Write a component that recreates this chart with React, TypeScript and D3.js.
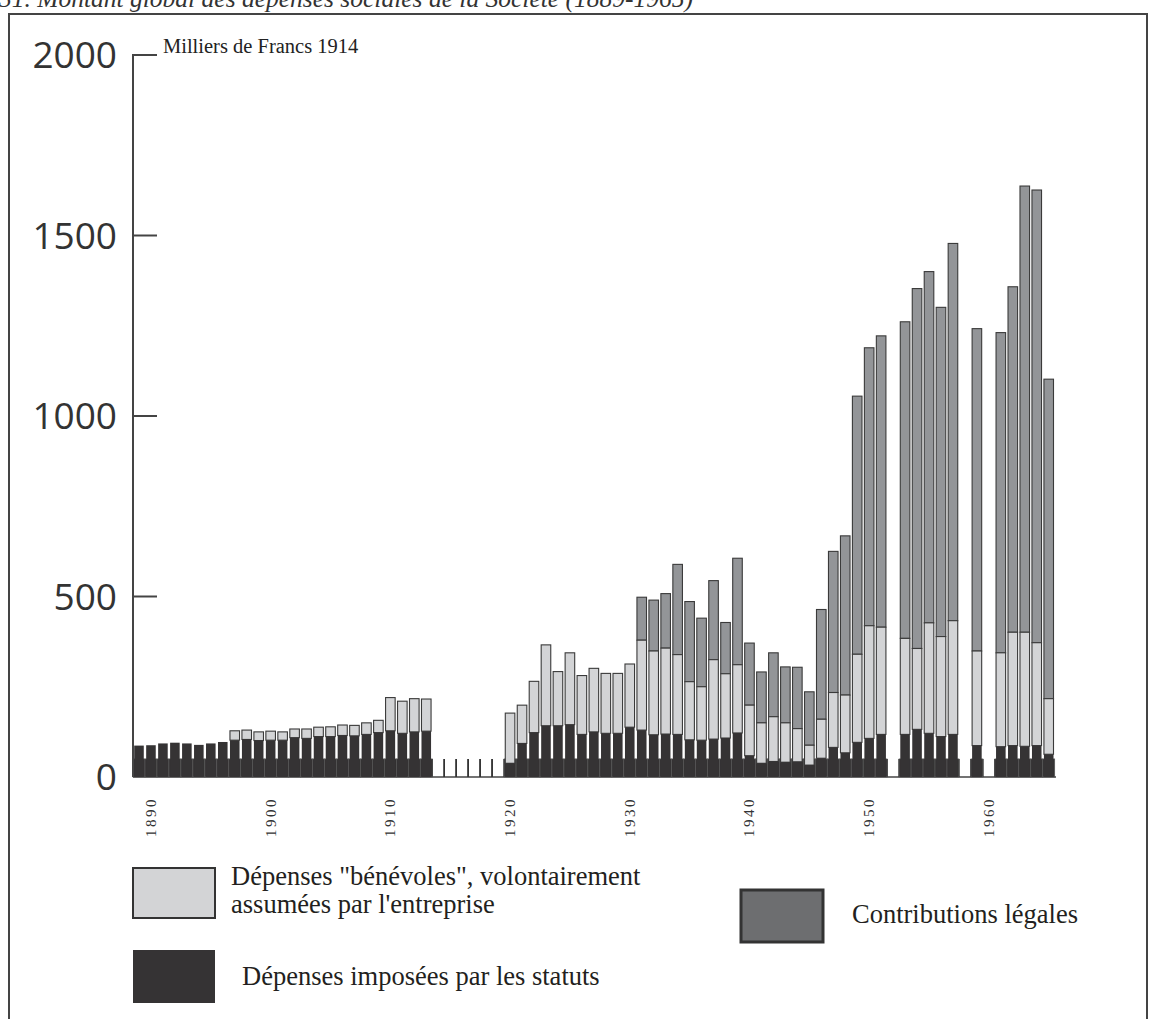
import React from "react";
import * as d3 from "d3";

const years: number[] = d3.range(1889, 1966);

// Dépenses imposées par les statuts (milliers de francs 1914)
const statuts: (number | null)[] = [
  87, 88, 93, 95, 93, 89, 93, 97, 102, 104, 101, 102, 102, 109, 107, 112, 112, 115, 114, 118, 123, 128, 121, 125, 127,
  null, null, null, null, null, null,
  38, 93, 123, 142, 142, 145, 118, 125, 121, 121, 138, 130, 117, 119, 118, 103, 102, 105, 108, 122,
  59, 38, 43, 41, 42, 33, 52, 82, 67, 96, 107, 118, null, 118, 132, 121, 112, 118, null, 87, null, 84, 87, 85, 87, 63,
];

// Dépenses "bénévoles"
const benevoles: (number | null)[] = [
  0, 0, 0, 0, 0, 0, 0, 0, 26, 26, 24, 25, 23, 24, 26, 26, 27, 29, 29, 32, 34, 92, 89, 92, 89,
  null, null, null, null, null, null,
  139, 106, 142, 224, 150, 199, 163, 176, 166, 166, 175, 249, 232, 238, 221, 161, 148, 220, 178, 189,
  140, 112, 124, 109, 92, 55, 108, 152, 160, 244, 312, 297, null, 266, 224, 306, 277, 315, null, 262, null, 260, 314, 316, 285, 154,
];

// Contributions légales
const legales: (number | null)[] = [
  0, 0, 0, 0, 0, 0, 0, 0, 0, 0, 0, 0, 0, 0, 0, 0, 0, 0, 0, 0, 0, 0, 0, 0, 0,
  null, null, null, null, null, null,
  0, 0, 0, 0, 0, 0, 0, 0, 0, 0, 0, 119, 141, 151, 250, 222, 190, 219, 142, 295,
  172, 141, 177, 155, 170, 148, 304, 391, 441, 715, 770, 807, null, 877, 997, 973, 912, 1045, null, 893, null, 887, 957, 1236, 1254, 885,
];

const yTicks = [0, 500, 1000, 1500, 2000];
const xLabels = [1890, 1900, 1910, 1920, 1930, 1940, 1950, 1960];
const baseBand = 50; // socle sombre commun

const title = "31. Montant global des dépenses sociales de la Société (1889-1965)";
const unitLabel = "Milliers de Francs 1914";
const legendItems = [
  { key: "benevoles", lines: ["Dépenses \"bénévoles\", volontairement", "assumées par l'entreprise"] },
  { key: "statuts", lines: ["Dépenses imposées par les statuts"] },
  { key: "legales", lines: ["Contributions légales"] },
];

const C_DARK = "#353334";
const C_LIGHT = "#d3d4d6";
const C_GRAY = "#939598";
const C_LEG_GRAY = "#6d6e70";
const C_LINE = "#444444";

export default function App() {
  const W = 1149, H = 1019;
  const x = d3.scaleBand<number>().domain(years).range([133, 1054.7]).paddingInner(0.2).paddingOuter(0.1);
  const y = d3.scaleLinear().domain([0, 2000]).range([777, 55]);
  const step = x.step();
  const bw = x.bandwidth();
  const cx = (yr: number) => (x(yr) as number) + bw / 2;

  const rows = years.map((yr, i) => ({
    yr,
    s: statuts[i],
    b: benevoles[i],
    l: legales[i],
  }));
  const present = rows.filter((r) => r.s !== null);
  const missing = rows.filter((r) => r.s === null);

  const serif = "'Liberation Serif', 'Times New Roman', serif";
  const sans = "'Open Sans', 'Noto Sans', sans-serif";

  return (
    <svg width={W} height={H} style={{ position: "absolute", left: 0, top: 0, background: "#fff" }}>
      {/* title (cut by the top edge, as in the source scan) */}
      <text x={-1} y={7} fontFamily={serif} fontStyle="italic" fontSize={25.5} fill="#333">
        {title}
      </text>
      {/* frame */}
      <path d={`M9,${H} V14 H1147 V${H}`} fill="none" stroke={C_LINE} strokeWidth={2} />

      {/* baseline */}
      <line x1={133} x2={1056} y1={y(0)} y2={y(0)} stroke={C_LINE} strokeWidth={1.5} />

      {/* ticks for missing years */}
      {missing.map((r) => {
        const c = cx(r.yr);
        return (
          <g key={"m" + r.yr}>
            <line x1={c - step / 2} x2={c - step / 2} y1={y(0)} y2={y(baseBand)} stroke="#333" strokeWidth={1.5} />
            <line x1={c + step / 2} x2={c + step / 2} y1={y(0)} y2={y(baseBand)} stroke="#333" strokeWidth={1.5} />
          </g>
        );
      })}

      {/* dark base band */}
      {present.map((r) => {
        const c = cx(r.yr);
        return (
          <rect key={"b" + r.yr} x={c - step / 2} width={step} y={y(baseBand)} height={y(0) - y(baseBand)}
            fill={C_DARK} stroke="#555" strokeWidth={0.7} />
        );
      })}

      {/* stacked bars */}
      {present.map((r) => {
        const x0 = x(r.yr) as number;
        const s = r.s as number, b = r.b as number, l = r.l as number;
        return (
          <g key={"s" + r.yr}>
            {l > 0 && (
              <rect x={x0} width={bw} y={y(s + b + l)} height={y(s + b) - y(s + b + l)} fill={C_GRAY} stroke="#3a3a3a" strokeWidth={1.1} />
            )}
            {b > 0 && (
              <rect x={x0} width={bw} y={y(s + b)} height={y(s) - y(s + b)} fill={C_LIGHT} stroke="#3a3a3a" strokeWidth={1.1} />
            )}
            <rect x={x0} width={bw} y={y(s)} height={y(0) - y(s)} fill={C_DARK} />
          </g>
        );
      })}

      {/* y axis */}
      <line x1={133} x2={133} y1={y(2000) - 1} y2={y(0)} stroke={C_LINE} strokeWidth={2} />
      {yTicks.map((t) => (
        <g key={"t" + t}>
          {t > 0 && <line x1={133} x2={157} y1={y(t)} y2={y(t)} stroke={C_LINE} strokeWidth={2} />}
          <text x={117} y={y(t)} dy="0.36em" textAnchor="end" fontFamily={sans} fontSize={37} fill="#333">
            {t}
          </text>
        </g>
      ))}
      <text x={163} y={53} fontFamily={serif} fontSize={20.5} fill="#222">
        {unitLabel}
      </text>

      {/* x labels */}
      {xLabels.map((yr) => (
        <text key={"x" + yr} transform={`translate(${cx(yr) + 5},${797}) rotate(-90)`} textAnchor="end"
          fontFamily={serif} fontSize={15} letterSpacing={2.5} fill="#333">
          {yr}
        </text>
      ))}

      {/* legend */}
      <rect x={133} y={868} width={82} height={50} fill={C_LIGHT} stroke="#333" strokeWidth={2} />
      <text fontFamily={serif} fontSize={26.5} fill="#231f20">
        <tspan x={231} y={885}>{legendItems[0].lines[0]}</tspan>
        <tspan x={231} y={913}>{legendItems[0].lines[1]}</tspan>
      </text>
      <rect x={133} y={950} width={82} height={53} fill={C_DARK} />
      <text x={242} y={985} fontFamily={serif} fontSize={26.5} fill="#231f20">{legendItems[1].lines[0]}</text>
      <rect x={741} y={890} width={82} height={52} fill={C_LEG_GRAY} stroke="#333" strokeWidth={3} />
      <text x={852} y={923} fontFamily={serif} fontSize={26.5} fill="#231f20">{legendItems[2].lines[0]}</text>
    </svg>
  );
}
